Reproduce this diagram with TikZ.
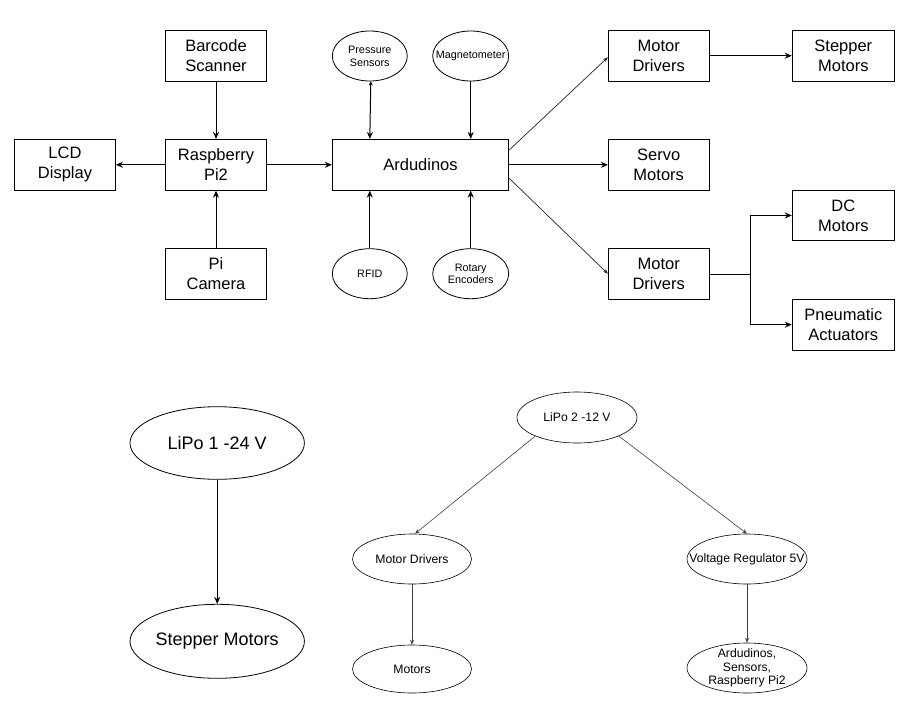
\documentclass[tikz,border=0pt]{standalone}
\usepackage{fontspec}
\setmainfont{Liberation Sans}
\usetikzlibrary{shapes.geometric,arrows.meta}
\tikzset{
  box/.style={draw, line width=1pt, minimum width=100.7pt, minimum height=50.7pt, inner sep=0pt,
    align=center, font=\fontsize{16.5}{20}\selectfont},
  ell/.style={draw, ellipse, line width=0.8pt, inner sep=0pt},
  stxt/.style={align=center, inner sep=0pt, font=\fontsize{10.8}{12.7}\selectfont},
  btxt/.style={align=center, inner sep=0pt, font=\fontsize{12.2}{13.3}\selectfont},
  ltxt/.style={align=center, inner sep=0pt, font=\fontsize{18}{20}\selectfont},
  arr/.style={line width=1pt, -{Stealth[length=7pt,width=6pt]}},
  thin arr/.style={line width=0.6pt, draw=black!75, -{Stealth[length=5pt,width=4pt]}},
}
\begin{document}
\begin{tikzpicture}[x=1pt,y=-1pt]
\useasboundingbox (0,0) rectangle (912,705);
% boxes
\node[box] (barcode) at (216,55.7) {Barcode\\Scanner};
\node[box] (lcd) at (65,164.8) {LCD\\Display};
\node[box] (rpi) at (216,164.8) {Raspberry\\Pi2};
\node[box] (cam) at (216,273.7) {Pi\\Camera};
\node[box, minimum width=176.4pt] (ard) at (420.5,164.8) {Ardudinos};
\node[box] (md1) at (658.7,55.7) {Motor\\Drivers};
\node[box, minimum width=102pt] (step) at (843.3,55.7) {Stepper\\Motors};
\node[box] (servo) at (658.7,164.8) {Servo\\Motors};
\node[box, minimum width=102pt] (dc) at (843.3,215.4) {DC\\Motors};
\node[box] (md2) at (658.7,273.7) {Motor\\Drivers};
\node[box, minimum width=102pt] (pneu) at (843.3,324.7) {Pneumatic\\Actuators};
% sensor ellipses
\node[ell, minimum width=75pt, minimum height=50pt] (press) at (369.8,56) {};
\node[stxt] (press-t) at (press) {Pressure\\Sensors};
\node[ell, minimum width=76pt, minimum height=50pt] (mag) at (470.7,56) {};
\node[stxt] (mag-t) at (mag) {Magnetometer};
\node[ell, minimum width=75pt, minimum height=50pt] (rfid) at (369.8,273.7) {};
\node[stxt] (rfid-t) at (rfid) {RFID};
\node[ell, minimum width=76pt, minimum height=50pt] (rot) at (470.7,273.7) {};
\node[stxt] (rot-t) at (rot) {Rotary\\Encoders};
% top connectors
\draw[arr] (barcode) -- (rpi);
\draw[arr] (rpi) -- (lcd);
\draw[arr] (cam) -- (rpi);
\draw[arr] (rpi) -- (ard);
\draw[line width=1pt, {Stealth[length=4pt,width=4pt]}-{Stealth[length=7pt,width=6pt]}] ([xshift=1pt]press.south) -- (press.south |- ard.north);
\draw[arr] (mag.south) -- (mag.south |- ard.north);
\draw[arr] (rfid.north) -- (rfid.north |- ard.south);
\draw[arr] (rot.north) -- (rot.north |- ard.south);
\coordinate (a1) at ([yshift=14.8pt]ard.east);
\coordinate (a3) at ([yshift=-13.5pt]ard.east);
\draw[thin arr, draw=black!85, line width=0.7pt] (a1) -- ([yshift=-1.6pt]md1.west);
\draw[arr] (ard) -- (servo);
\draw[thin arr, draw=black!85, line width=0.7pt] (a3) -- (md2.west);
\draw[arr] (md1) -- (step);
\coordinate (j) at (750,274.5);
\draw[line width=1.6pt] (md2.east |- j) -- (j);
\draw[arr] (j) |- (dc.west);
\draw[arr] (j) |- (pneu.west);
% bottom power diagram
\node[ell, minimum width=174.4pt, minimum height=72.6pt] (lipo1) at (217.2,443) {};
\node[ltxt] (lipo1-t) at (lipo1) {LiPo 1 -24 V};
\node[ell, minimum width=174.4pt, minimum height=74pt] (stepb) at (217.2,641.3) {};
\node[ltxt] (stepb-t) at (stepb) {Stepper Motors};
\draw[arr] (lipo1) -- (stepb);
\node[ell, line width=0.6pt, minimum width=120pt, minimum height=51pt] (lipo2) at (577,417.5) {};
\node[btxt] (lipo2-t) at (lipo2) {LiPo 2 -12 V};
\node[ell, line width=0.6pt, minimum width=119pt, minimum height=50pt] (mdb) at (412,559) {};
\node[btxt] (mdb-t) at (mdb) {Motor Drivers};
\node[ell, line width=0.6pt, minimum width=119pt, minimum height=48pt] (mot) at (412,669) {};
\node[btxt] (mot-t) at (mot) {Motors};
\node[ell, line width=0.6pt, minimum width=120pt, minimum height=50pt] (vr) at (747,559) {};
\node[btxt] (vr-t) at (vr) {Voltage Regulator 5V};
\node[ell, line width=0.6pt, minimum width=120pt, minimum height=50pt] (ardb) at (747,668) {};
\node[btxt] (ardb-t) at (ardb) {Ardudinos,\\Sensors,\\Raspberry Pi2};
\draw[thin arr] (lipo2.204) -- ([xshift=3pt]mdb.north);
\draw[thin arr] (lipo2.336) -- (vr.north);
\draw[thin arr] (mdb) -- (mot);
\draw[thin arr] (vr) -- (ardb);
\end{tikzpicture}
\end{document}
